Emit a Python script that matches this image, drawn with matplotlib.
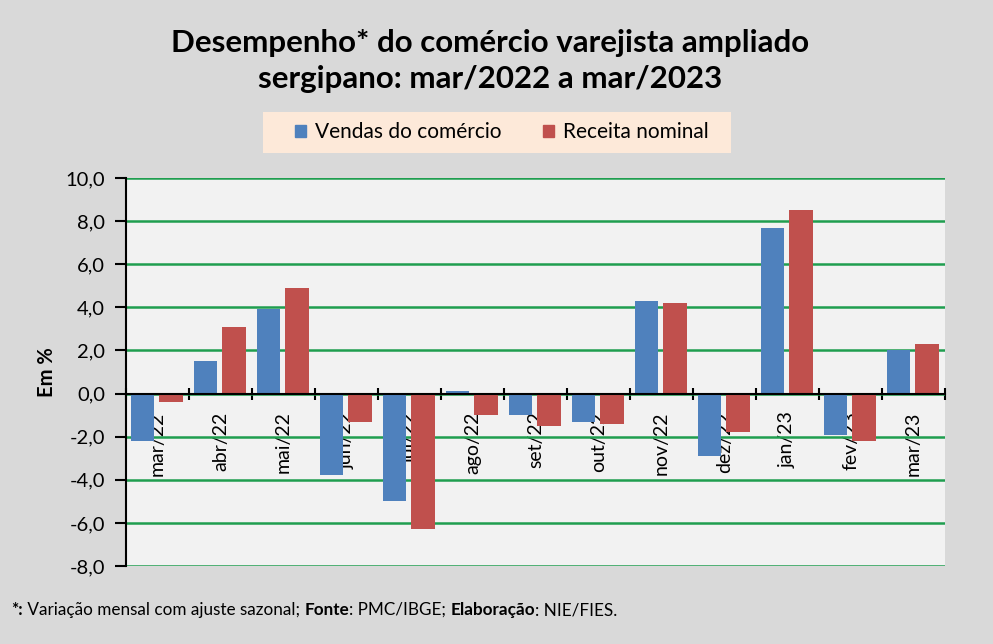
import numpy as np
import matplotlib
matplotlib.use("Agg")
import matplotlib.pyplot as plt
from matplotlib.patches import Patch, Rectangle


meses = ["mar/22", "abr/22", "mai/22", "jun/22", "jul/22", "ago/22", "set/22",
         "out/22", "nov/22", "dez/22", "jan/23", "fev/23", "mar/23"]
vendas = [-2.2, 1.5, 3.9, -3.8, -5.0, 0.1, -1.0, -1.3, 4.3, -2.9, 7.7, -1.9, 2.0]
receita = [-0.4, 3.1, 4.9, -1.3, -6.3, -1.0, -1.5, -1.4, 4.2, -1.8, 8.5, -2.2, 2.3]
y_ticks = [-8, -6, -4, -2, 0, 2, 4, 6, 8, 10]

azul = "#4f81bd"
vermelho = "#c0504d"
verde = "#1f9e4f"

plt.rcParams["font.family"] = ["Lato", "DejaVu Sans"]

fig = plt.figure(figsize=(9.93, 6.44), dpi=100, facecolor="#d9d9d9")
ax = fig.add_axes([0.1269, 0.1211, 0.8248, 0.6025])
ax.set_facecolor("#f2f2f2")

x = np.arange(len(meses))
ax.bar(x - 0.235, vendas, width=0.37, color=azul, zorder=3)
ax.bar(x + 0.215, receita, width=0.37, color=vermelho, zorder=3)

ax.set_xlim(-0.5, len(meses) - 0.5)
ax.set_ylim(-8, 10)
ax.set_yticks(y_ticks)
ax.set_yticklabels([f"{v:.1f}".replace(".", ",") for v in y_ticks], fontsize=14.5)
ax.yaxis.grid(True, color=verde, linewidth=1.8, zorder=1)
ax.set_axisbelow(True)

# x axis sits on zero, ticks between categories, labels rotated
ax.spines["bottom"].set_position(("data", 0))
ax.spines["bottom"].set_zorder(4)
ax.spines["top"].set_visible(False)
ax.spines["right"].set_visible(False)
ax.spines["left"].set_linewidth(1.5)
ax.spines["bottom"].set_linewidth(1.5)
ax.set_xticks(np.arange(-0.5, len(meses)), labels=[])
ax.tick_params(axis="x", which="major", direction="inout", length=9, width=1.5)
ax.set_xticks(x, labels=meses, minor=True)
ax.tick_params(axis="x", which="minor", length=0, pad=13, labelsize=14,
               labelrotation=90)
for lab in ax.get_xticklabels(minor=True):
    lab.set_verticalalignment("top")
ax.tick_params(axis="y", direction="out", length=8, width=1.5, pad=7)

ax.set_ylabel("Em %", fontsize=14.5, fontweight="bold", labelpad=6)

fig.text(0.494, 0.906, "Desempenho* do comércio varejista ampliado\nsergipano: mar/2022 a mar/2023",
         ha="center", va="center", fontsize=22.5, fontweight="bold",
         linespacing=1.35)

# legend box drawn by hand, legend itself without frame
fig.patches.append(Rectangle((263 / 993, 1 - 153 / 644), 468 / 993, 41 / 644,
                             transform=fig.transFigure, facecolor="#fde9d9",
                             edgecolor="none", zorder=0))
handles = [Patch(color=azul, label="Vendas do comércio"),
           Patch(color=vermelho, label="Receita nominal")]
fig.legend(handles=handles, loc="center", bbox_to_anchor=(502 / 993, 1 - 132 / 644),
           ncol=2, fontsize=15, frameon=False,
           handlelength=0.5, handleheight=0.5, handletextpad=0.45,
           columnspacing=2.0, borderpad=0, borderaxespad=0)

# footnote with bold pieces
pecas = [("*:", "bold"), (" Variação mensal com ajuste sazonal; ", "normal"),
         ("Fonte", "bold"), (": PMC/IBGE; ", "normal"),
         ("Elaboração", "bold"), (": NIE/FIES.", "normal")]
fig.canvas.draw()
renderer = fig.canvas.get_renderer()
xpos = 11
for texto, peso in pecas:
    t = fig.text(xpos / 993, 1 - 610 / 644, texto, fontsize=12.3, fontweight=peso,
                 ha="left", va="center")
    xpos = t.get_window_extent(renderer).x1

fig.savefig("out.png", dpi=100, facecolor=fig.get_facecolor())
